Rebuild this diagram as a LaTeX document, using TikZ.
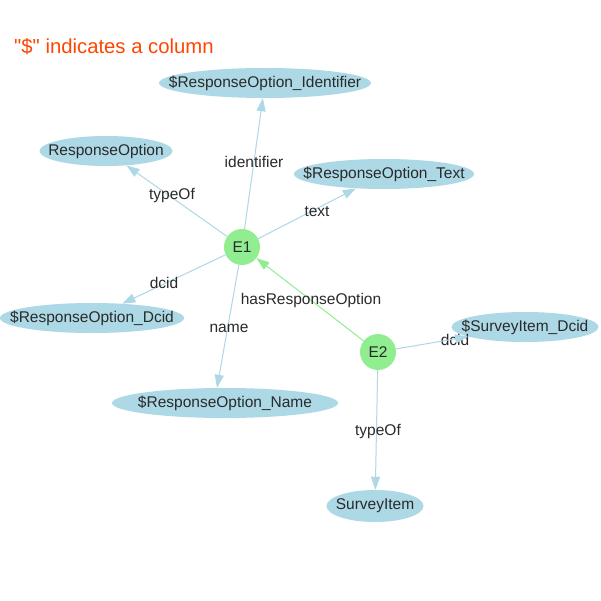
\documentclass[tikz,border=0pt]{standalone}
\usepackage{fontspec}
\setmainfont{Liberation Sans}
\usetikzlibrary{shapes.geometric,arrows.meta}
\definecolor{nodeblue}{HTML}{ADD8E6}
\definecolor{nodegreen}{HTML}{90EE90}
\definecolor{txt}{HTML}{2A2A2A}
\definecolor{titlecol}{HTML}{FF4500}
\tikzset{
  colnode/.style={shape=ellipse, fill=nodeblue, draw=none, inner sep=0pt, text=txt,
     font=\fontsize{15.5}{18}\selectfont},
  entnode/.style={shape=circle, fill=nodegreen, draw=none, inner sep=0pt, minimum size=36pt, text=txt,
     font=\fontsize{15.5}{18}\selectfont},
  edgelbl/.style={text=txt, inner sep=1pt, font=\fontsize{15.5}{18}\selectfont},
  blueedge/.style={draw=nodeblue, line width=1pt, -{Triangle[length=13pt,width=9pt]}},
  greenedge/.style={draw=nodegreen, line width=1pt, -{Triangle[length=13pt,width=9pt]}},
}
\newcommand{\zb}[1]{\makebox[0pt]{#1}}
\begin{document}
\begin{tikzpicture}[x=1pt,y=-1pt]
\useasboundingbox[fill=white] (0,0) rectangle (601,601);
\node[text=titlecol, font=\fontsize{20.3}{24}\selectfont, anchor=west, inner sep=0pt] (title) at (14,47) {\textquotedbl\$\textquotedbl{} indicates a column};

\node[colnode, minimum width=212pt, minimum height=30pt] (ident) at (265,83) {\zb{\$ResponseOption\_Identifier}};
\node[colnode, minimum width=133pt, minimum height=30pt] (ro) at (106,151) {\zb{ResponseOption}};
\node[colnode, minimum width=180pt, minimum height=30pt] (rtext) at (384,174) {\zb{\$ResponseOption\_Text}};
\node[colnode, minimum width=184pt, minimum height=30pt] (rdcid) at (92,318) {\zb{\$ResponseOption\_Dcid}};
\node[colnode, minimum width=226pt, minimum height=30pt] (rname) at (225,403) {\zb{\$ResponseOption\_Name}};
\node[colnode, minimum width=147pt, minimum height=30pt] (sdcid) at (525,327) {\zb{\$SurveyItem\_Dcid}};
\node[colnode, minimum width=97pt, minimum height=32pt] (si) at (375,506) {\zb{SurveyItem}};

\node[entnode] (e1) at (242,247) {E1};
\node[entnode] (e2) at (378,352) {E2};

\node[edgelbl] (l7) at (455,340) {dcid};

\draw[blueedge] (e1) -- (ident);
\draw[blueedge] (e1) -- (ro);
\draw[blueedge] (e1) -- (rtext);
\draw[blueedge] (e1) -- (rdcid);
\draw[blueedge] (e1) -- ([xshift=-8pt]rname.north);
\draw[greenedge] (e2) -- (e1);
\draw[blueedge] (e2) -- (sdcid);
\draw[blueedge] (e2) -- (si);

\node[edgelbl] (l1) at (254,162) {identifier};
\node[edgelbl] (l2) at (172,196) {typeOf};
\node[edgelbl] (l3) at (317,212) {text};
\node[edgelbl] (l4) at (164,283) {dcid};
\node[edgelbl] (l5) at (229,328) {name};
\node[edgelbl] (l6) at (311,300) {hasResponseOption};
\node[edgelbl] (l8) at (378,431) {typeOf};
\end{tikzpicture}
\end{document}
